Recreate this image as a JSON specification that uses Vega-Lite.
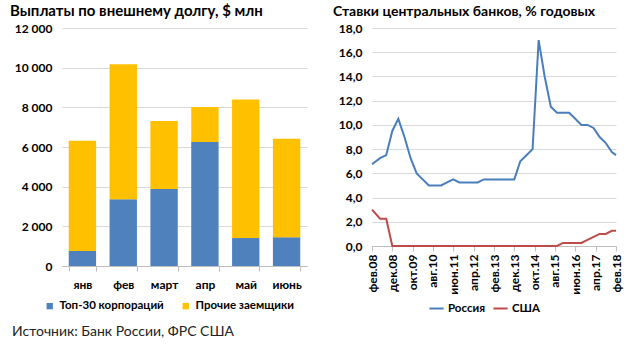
{
  "$schema": "https://vega.github.io/schema/vega-lite/v6.json",
  "background": "white",
  "padding": {"left": 10, "top": 4, "right": 5, "bottom": 5},
  "spacing": 65,
  "bounds": "flush",
  "title": {"text": "Источник: Банк России, ФРС США", "orient": "bottom", "anchor": "start", "frame": "bounds", "font": "Lato, Open Sans", "fontSize": 14, "fontWeight": "normal", "color": "#222222", "offset": 11, "dx": 2},
  "config": {
    "font": "Lato, Open Sans",
    "view": {"stroke": null},
    "axis": {"labelFont": "Lato, Open Sans", "labelFontWeight": "bold", "labelFontSize": 12, "labelColor": "#000000", "gridColor": "#D9D9D9", "domainColor": "#BFBFBF", "tickColor": "#BFBFBF", "title": null},
    "legend": {"labelFont": "Lato, Open Sans", "labelFontWeight": "bold", "labelFontSize": 11.5, "labelColor": "#000000"},
    "title": {"font": "Lato, Open Sans", "fontSize": 15, "fontWeight": "bold", "color": "#000000"}
  },
  "hconcat": [
    {
      "width": 245,
      "height": 238,
      "title": {"text": "Выплаты по внешнему долгу, $ млн", "anchor": "start", "frame": "group", "dx": -52, "offset": 3},
      "data": {"values": [
        {"month": "янв", "series": "Топ-30 корпораций", "value": 760},
        {"month": "янв", "series": "Прочие заемщики", "value": 5560},
        {"month": "фев", "series": "Топ-30 корпораций", "value": 3360},
        {"month": "фев", "series": "Прочие заемщики", "value": 6810},
        {"month": "март", "series": "Топ-30 корпораций", "value": 3880},
        {"month": "март", "series": "Прочие заемщики", "value": 3430},
        {"month": "апр", "series": "Топ-30 корпораций", "value": 6250},
        {"month": "апр", "series": "Прочие заемщики", "value": 1770},
        {"month": "май", "series": "Топ-30 корпораций", "value": 1410},
        {"month": "май", "series": "Прочие заемщики", "value": 6980},
        {"month": "июнь", "series": "Топ-30 корпораций", "value": 1450},
        {"month": "июнь", "series": "Прочие заемщики", "value": 4970}
      ]},
      "mark": {"type": "bar"},
      "encoding": {
        "x": {"field": "month", "type": "nominal", "sort": null,
          "scale": {"paddingInner": 0.33, "paddingOuter": 0.165},
          "axis": {"labelAngle": 0, "tickBand": "extent", "ticks": true, "tickSize": 5, "labelPadding": 8, "grid": false}},
        "y": {"field": "value", "type": "quantitative",
          "scale": {"domain": [0, 12000], "nice": false},
          "axis": {"values": [0, 2000, 4000, 6000, 8000, 10000, 12000], "labelExpr": "replace(format(datum.value, ','), ',', ' ')", "domain": false, "ticks": false, "labelPadding": 10, "grid": true}},
        "color": {"field": "series", "type": "nominal",
          "scale": {"domain": ["Топ-30 корпораций", "Прочие заемщики"], "range": ["#4F81BD", "#FFC000"]},
          "legend": {"orient": "none", "legendX": -18, "legendY": 272, "direction": "horizontal", "title": null, "symbolType": "square", "symbolSize": 40, "symbolStrokeWidth": 0, "columnPadding": 16, "labelOffset": 4}},
        "order": {"field": "series", "sort": "descending"}
      }
    },
    {
      "width": 244,
      "height": 218,
      "title": {"text": "Ставки центральных банков, % годовых", "anchor": "start", "frame": "group", "dx": -39, "offset": 3, "fontSize": 14},
      "data": {"values": [
        {"date": "2008-02", "country": "Россия", "rate": 6.75},
        {"date": "2008-06", "country": "Россия", "rate": 7.25},
        {"date": "2008-09", "country": "Россия", "rate": 7.5},
        {"date": "2008-12", "country": "Россия", "rate": 9.5},
        {"date": "2009-03", "country": "Россия", "rate": 10.5},
        {"date": "2009-06", "country": "Россия", "rate": 9.0},
        {"date": "2009-09", "country": "Россия", "rate": 7.25},
        {"date": "2009-12", "country": "Россия", "rate": 6.0},
        {"date": "2010-03", "country": "Россия", "rate": 5.5},
        {"date": "2010-06", "country": "Россия", "rate": 5.0},
        {"date": "2010-09", "country": "Россия", "rate": 5.0},
        {"date": "2010-12", "country": "Россия", "rate": 5.0},
        {"date": "2011-03", "country": "Россия", "rate": 5.25},
        {"date": "2011-06", "country": "Россия", "rate": 5.5},
        {"date": "2011-09", "country": "Россия", "rate": 5.25},
        {"date": "2011-12", "country": "Россия", "rate": 5.25},
        {"date": "2012-03", "country": "Россия", "rate": 5.25},
        {"date": "2012-06", "country": "Россия", "rate": 5.25},
        {"date": "2012-09", "country": "Россия", "rate": 5.5},
        {"date": "2012-12", "country": "Россия", "rate": 5.5},
        {"date": "2013-03", "country": "Россия", "rate": 5.5},
        {"date": "2013-06", "country": "Россия", "rate": 5.5},
        {"date": "2013-09", "country": "Россия", "rate": 5.5},
        {"date": "2013-12", "country": "Россия", "rate": 5.5},
        {"date": "2014-03", "country": "Россия", "rate": 7.0},
        {"date": "2014-06", "country": "Россия", "rate": 7.5},
        {"date": "2014-09", "country": "Россия", "rate": 8.0},
        {"date": "2014-12", "country": "Россия", "rate": 17.0},
        {"date": "2015-03", "country": "Россия", "rate": 14.0},
        {"date": "2015-06", "country": "Россия", "rate": 11.5},
        {"date": "2015-09", "country": "Россия", "rate": 11.0},
        {"date": "2015-12", "country": "Россия", "rate": 11.0},
        {"date": "2016-03", "country": "Россия", "rate": 11.0},
        {"date": "2016-06", "country": "Россия", "rate": 10.5},
        {"date": "2016-09", "country": "Россия", "rate": 10.0},
        {"date": "2016-12", "country": "Россия", "rate": 10.0},
        {"date": "2017-03", "country": "Россия", "rate": 9.75},
        {"date": "2017-06", "country": "Россия", "rate": 9.0},
        {"date": "2017-09", "country": "Россия", "rate": 8.5},
        {"date": "2017-12", "country": "Россия", "rate": 7.75},
        {"date": "2018-02", "country": "Россия", "rate": 7.5},
        {"date": "2008-02", "country": "США", "rate": 3.0},
        {"date": "2008-06", "country": "США", "rate": 2.25},
        {"date": "2008-09", "country": "США", "rate": 2.25},
        {"date": "2008-12", "country": "США", "rate": 0},
        {"date": "2009-06", "country": "США", "rate": 0},
        {"date": "2010-06", "country": "США", "rate": 0},
        {"date": "2011-06", "country": "США", "rate": 0},
        {"date": "2012-06", "country": "США", "rate": 0},
        {"date": "2013-06", "country": "США", "rate": 0},
        {"date": "2014-06", "country": "США", "rate": 0},
        {"date": "2015-06", "country": "США", "rate": 0},
        {"date": "2015-09", "country": "США", "rate": 0},
        {"date": "2015-12", "country": "США", "rate": 0.25},
        {"date": "2016-03", "country": "США", "rate": 0.25},
        {"date": "2016-06", "country": "США", "rate": 0.25},
        {"date": "2016-09", "country": "США", "rate": 0.25},
        {"date": "2016-12", "country": "США", "rate": 0.5},
        {"date": "2017-03", "country": "США", "rate": 0.75},
        {"date": "2017-06", "country": "США", "rate": 1.0},
        {"date": "2017-09", "country": "США", "rate": 1.0},
        {"date": "2017-12", "country": "США", "rate": 1.25},
        {"date": "2018-02", "country": "США", "rate": 1.25}
      ], "format": {"parse": {"date": "utc:'%Y-%m'"}}},
      "mark": {"type": "line", "strokeWidth": 2},
      "encoding": {
        "x": {"field": "date", "type": "temporal",
          "scale": {"type": "utc", "nice": false, "domain": [{"year": 2008, "month": 2, "date": 1, "utc": true}, {"year": 2018, "month": 2, "date": 1, "utc": true}]},
          "axis": {"values": [
            {"year": 2008, "month": 2, "date": 1, "utc": true},
            {"year": 2008, "month": 12, "date": 1, "utc": true},
            {"year": 2009, "month": 10, "date": 1, "utc": true},
            {"year": 2010, "month": 8, "date": 1, "utc": true},
            {"year": 2011, "month": 6, "date": 1, "utc": true},
            {"year": 2012, "month": 4, "date": 1, "utc": true},
            {"year": 2013, "month": 2, "date": 1, "utc": true},
            {"year": 2013, "month": 12, "date": 1, "utc": true},
            {"year": 2014, "month": 10, "date": 1, "utc": true},
            {"year": 2015, "month": 8, "date": 1, "utc": true},
            {"year": 2016, "month": 6, "date": 1, "utc": true},
            {"year": 2017, "month": 4, "date": 1, "utc": true},
            {"year": 2018, "month": 2, "date": 1, "utc": true}
          ],
          "labelExpr": "['янв','фев','мар','апр','май','июн','июл','авг','сен','окт','ноя','дек'][utcmonth(datum.value)] + '.' + utcFormat(datum.value, '%y')",
          "labelAngle": 270, "tickSize": 5, "grid": false, "labelPadding": 3, "labelOverlap": false, "labelBound": false, "labelFlush": false}},
        "y": {"field": "rate", "type": "quantitative",
          "scale": {"domain": [0, 18], "nice": false},
          "axis": {"values": [0, 2, 4, 6, 8, 10, 12, 14, 16, 18], "labelExpr": "replace(format(datum.value, '.1f'), '.', ',')", "domain": false, "ticks": false, "labelPadding": 10, "grid": true}},
        "color": {"field": "country", "type": "nominal",
          "scale": {"domain": ["Россия", "США"], "range": ["#4A7EBB", "#BE4B48"]},
          "legend": {"orient": "none", "legendX": 56, "legendY": 272, "direction": "horizontal", "title": null, "symbolType": "stroke", "symbolStrokeWidth": 2, "symbolSize": 200, "columnPadding": 4, "labelOffset": 3}}
      }
    }
  ],
  "resolve": {"scale": {"color": "independent"}}
}
